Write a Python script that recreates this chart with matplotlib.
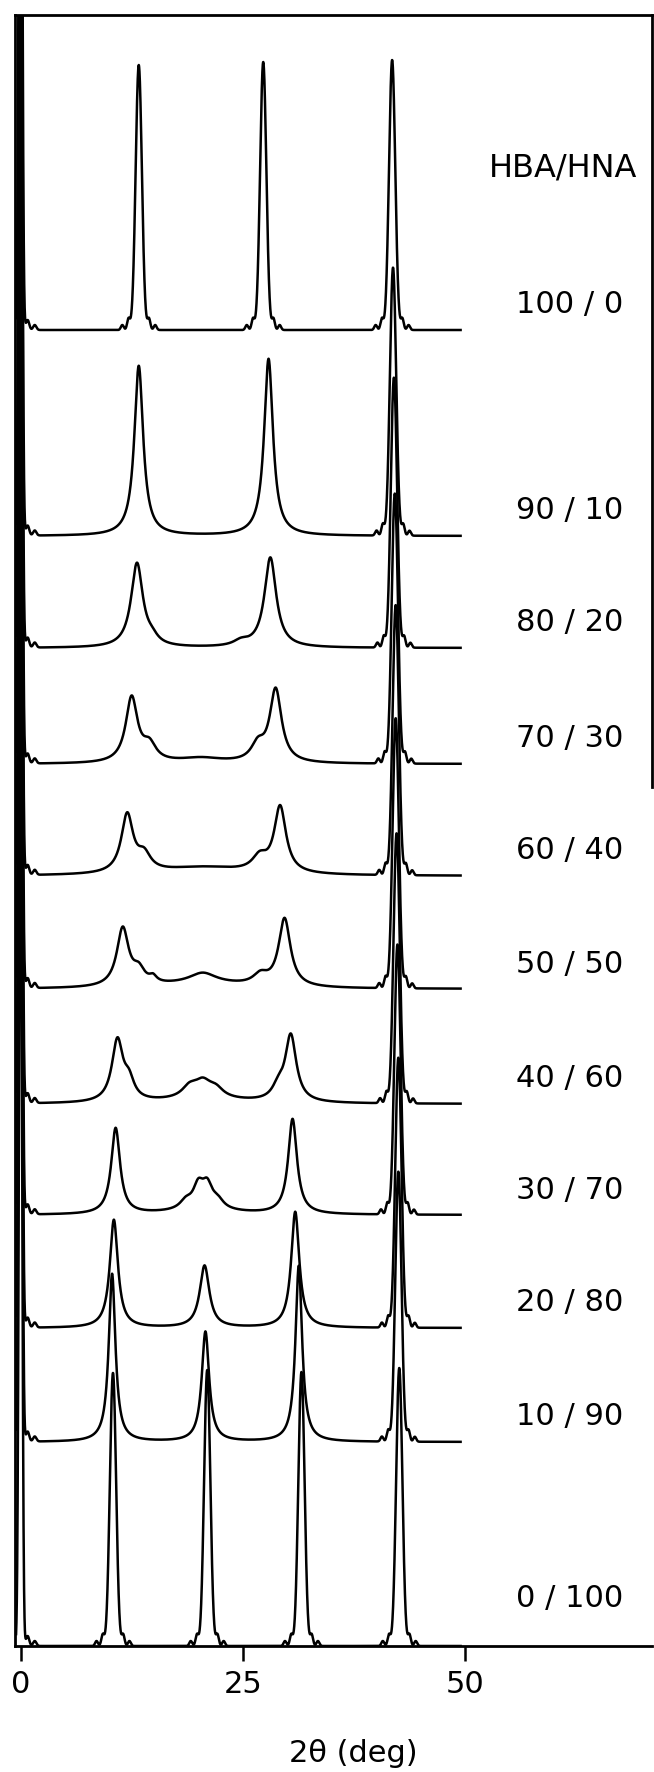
import numpy as np
import matplotlib
matplotlib.use("Agg")
import matplotlib.pyplot as plt

# compositions, top to bottom
labels = ["100 / 0", "90 / 10", "80 / 20", "70 / 30", "60 / 40", "50 / 50",
          "40 / 60", "30 / 70", "20 / 80", "10 / 90", "0 / 100"]
# vertical offset of each trace (intensity units)
offsets = [1316, 1110, 998, 882, 770, 657, 542, 431, 318, 204, 0]

# broad (Lorentzian) reflections: position (deg), height, half width
broad_pos = [[],
             [13.3, 27.9],
             [13.1, 28.1, 14.8, 24.8],
             [12.5, 14.5, 28.7, 26.7, 20.3],
             [12.0, 13.9, 29.2, 26.9, 20.5],
             [11.5, 13.3, 14.9, 29.7, 27.0, 20.5, 20.5],
             [10.9, 12.2, 30.4, 29.0, 20.5, 19.0, 22.0, 20.5],
             [10.7, 30.6, 20.0, 21.0, 18.6, 22.2, 20.5],
             [10.5, 20.7, 30.9],
             [10.3, 20.8, 31.3],
             []]
broad_h = [[],
           [170, 177],
           [84, 90, 6, 5],
           [65, 16, 73, 16, 5],
           [58, 16, 66, 14, 8],
           [58, 14, 6, 68, 10, 10, 5],
           [61, 18, 66, 12, 16, 10, 8, 4],
           [86, 95, 22, 22, 8, 8, 4],
           [108, 62, 116],
           [168, 110, 176],
           []]
broad_w = [[],
           [0.6, 0.6],
           [0.8, 0.8, 0.8, 1.0],
           [0.8, 0.9, 0.8, 0.9, 3.0],
           [0.8, 0.9, 0.8, 1.0, 6.0],
           [0.8, 0.8, 0.5, 0.8, 1.0, 1.8, 6.0],
           [0.75, 0.7, 0.75, 0.8, 1.2, 1.0, 1.0, 6.0],
           [0.6, 0.6, 0.7, 0.7, 0.8, 0.8, 5.0],
           [0.55, 0.65, 0.55],
           [0.45, 0.5, 0.45],
           []]

# sharp reflections (with side lobes): position (deg), height
sharp_pos = [[13.3, 27.3, 41.8], [41.9], [42.0], [42.1], [42.2], [42.2],
             [42.3], [42.4], [42.5], [42.5], [10.4, 21.0, 31.6, 42.6]]
sharp_h = [[265, 268, 270], [268], [270], [270], [270], [270],
           [270], [270], [270], [270], [273, 276, 274, 278]]
lobe_dx = [1.15, 1.85]
lobe_h = [11, 5]

# zero-order spike, off the top of the frame
spike_h = 900
spike_lobe_dx = [0.8, 1.6]
spike_lobe_h = [10, 5]

x = np.linspace(-0.5, 49.5, 6000)


def gauss(c, h, s):
    return h * np.exp(-0.5 * ((x - c) / s) ** 2)


fig = plt.figure(figsize=(6.54, 17.72), dpi=100)
ax = fig.add_axes([15 / 654, 126 / 1772, 637 / 654, 1631 / 1772])

for i in range(len(labels)):
    y = gauss(0, spike_h, 0.17)
    for d, h in zip(spike_lobe_dx, spike_lobe_h):
        y += gauss(d, h, 0.18)
    for c, h, w in zip(broad_pos[i], broad_h[i], broad_w[i]):
        y += h / (1 + ((x - c) / w) ** 2)
    for c, h in zip(sharp_pos[i], sharp_h[i]):
        y += gauss(c, h, 0.35)
        for d, lh in zip(lobe_dx, lobe_h):
            y += gauss(c - d, lh, 0.16) + gauss(c + d, lh, 0.16)
    ax.plot(x, y + offsets[i], color="black", lw=1.8)
    ly = offsets[i] + (48 if offsets[i] == 0 else 25)
    ax.text(61.8, ly, labels[i], ha="center", va="center", fontsize=22)

ax.text(61.0, 1478, "HBA/HNA", ha="center", va="center", fontsize=23)

ax.set_xlim(-0.62, 71.03)
ax.set_ylim(0, 1631)
ax.set_xticks([0, 25, 50])
ax.set_yticks([])
ax.tick_params(axis="x", direction="out", length=11, width=1.8,
               labelsize=22, pad=6.5)
for s in ax.spines.values():
    s.set_linewidth(2.0)
ax.spines["right"].set_bounds(859, 1631)

fig.text(353 / 654, 1 - 1753 / 1772, "2θ (deg)", ha="center", va="center",
         fontsize=22)

fig.savefig("out.png", dpi=100)
